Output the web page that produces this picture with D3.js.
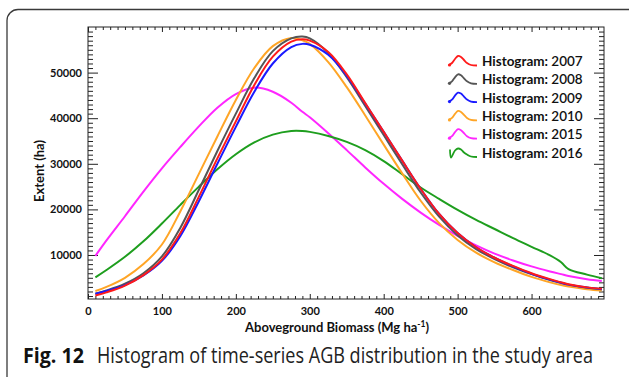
<!DOCTYPE html>
<html>
<head>
<meta charset="utf-8">
<script src="https://cdn.jsdelivr.net/npm/d3@7"></script>
<style>
  html, body { margin: 0; padding: 0; background: #fff; }
  svg { display: block; }
</style>
</head>
<body>
<svg id="chart"></svg>
<script>
// ====== données ====== //
const biomass = [10, 25, 50, 75, 100, 125, 150, 175, 200, 225, 250, 275, 290, 300, 325, 350, 375, 400, 425, 450, 475, 500, 525, 550, 575, 600, 625, 640, 650, 675, 695];

const h2007 = [1100, 1800, 3300, 5600, 9000, 14800, 22800, 31200, 39300, 47300, 53500, 56800, 57300, 57000, 54500, 49600, 43300, 37000, 30700, 24500, 19000, 14800, 11700, 9400, 7600, 6000, 4700, 4000, 3600, 2900, 2600];
const h2008 = [1500, 2200, 3700, 6000, 9700, 16000, 24300, 32800, 41000, 48800, 54700, 57500, 57900, 57500, 54300, 49000, 42700, 36300, 29900, 23700, 18400, 14300, 11300, 9100, 7300, 5800, 4500, 3900, 3500, 2800, 2500];
const h2009 = [1500, 2100, 3400, 5500, 8700, 14200, 21800, 30000, 38100, 45800, 52000, 55600, 56300, 56100, 53900, 49300, 43200, 37000, 30700, 24500, 19000, 14800, 11700, 9400, 7500, 5900, 4600, 3900, 3500, 2900, 2500];
const h2010 = [2100, 3000, 5000, 8000, 12300, 19600, 27800, 36000, 44000, 51000, 55800, 57600, 57100, 56300, 52300, 46800, 40600, 34200, 27900, 21900, 17000, 13300, 10500, 8400, 6700, 5200, 4000, 3400, 3100, 2500, 2200];
const h2015 = [9800, 13200, 18500, 23900, 29000, 33700, 38200, 42300, 45300, 46700, 45800, 43400, 41400, 40200, 36700, 33000, 29200, 25600, 22300, 19300, 16600, 14200, 12100, 10300, 8800, 7500, 6400, 5800, 5400, 4700, 4300];
const h2016 = [5100, 6700, 9600, 13000, 16900, 21000, 25000, 28800, 32100, 34700, 36400, 37200, 37200, 37000, 36100, 34800, 33000, 30600, 27700, 24800, 22300, 19900, 17700, 15700, 13700, 11800, 9900, 8400, 6900, 5700, 4900];

const seriesNames = ["Histogram: 2007", "Histogram: 2008", "Histogram: 2009", "Histogram: 2010", "Histogram: 2015", "Histogram: 2016"];
const seriesValues = [h2007, h2008, h2009, h2010, h2015, h2016];
const seriesColors = ["#ff1a1a", "#555555", "#1a1aff", "#ffa526", "#ff26ff", "#1e9e1e"];
// ordre de tracé (2007 dessus)
const drawOrder = [4, 5, 3, 1, 2, 0];

const xTicks = [0, 100, 200, 300, 400, 500, 600];
const yTicks = [10000, 20000, 30000, 40000, 50000];

// ====== dimensions ====== //
const W = 629, H = 377;
const frame = {left: 88, right: 604, top: 27, bottom: 299};

const svg = d3.select("#chart").attr("width", W).attr("height", H);

// cadre arrondi de la figure
svg.append("rect")
  .attr("x", 7).attr("y", 9.5)
  .attr("width", 634).attr("height", 380)
  .attr("rx", 11).attr("ry", 11)
  .attr("fill", "none")
  .attr("stroke", "#3a3a3a")
  .attr("stroke-width", 1.3);

const x = d3.scaleLinear().domain([0, 698]).range([frame.left, frame.right]);
const y = d3.scaleLinear().domain([350, 60000]).range([frame.bottom, frame.top]);

// ====== axes (graduations vers l'intérieur sur les 4 côtés) ====== //
const tickFont = "Lato, 'Open Sans', sans-serif";
const xMinor = d3.range(10, 698, 10).filter(v => v % 100 !== 0);
const yMinor = d3.range(1000, 60000, 1000).filter(v => v % 10000 !== 0);

function drawAxis(gen, tx, ty, values, size, labels) {
  const g = svg.append("g").attr("transform", `translate(${tx},${ty})`)
    .call(gen.tickValues(values).tickSize(size).tickPadding(labels ? 5 : 0)
      .tickFormat(labels ? d3.format("d") : ""));
  g.select(".domain").remove();
  g.selectAll(".tick line").attr("stroke", "#222").attr("stroke-width", 1);
  g.selectAll("text")
    .attr("font-family", tickFont)
    .attr("font-weight", "bold")
    .attr("font-size", 11)
    .attr("fill", "#111");
  return g;
}

drawAxis(d3.axisBottom(x), 0, frame.bottom, xTicks, -5, true).selectAll("text").attr("dy", "1em");
drawAxis(d3.axisBottom(x), 0, frame.bottom, xMinor, -3, false);
drawAxis(d3.axisTop(x), 0, frame.top, xTicks, -5, false);
drawAxis(d3.axisTop(x), 0, frame.top, xMinor, -3, false);
drawAxis(d3.axisLeft(y), frame.left, 0, yTicks, -10, true).selectAll("text").attr("x", -6);
drawAxis(d3.axisLeft(y), frame.left, 0, yMinor, -5, false);
drawAxis(d3.axisRight(y), frame.right, 0, yTicks, -10, false);
drawAxis(d3.axisRight(y), frame.right, 0, yMinor, -5, false);

svg.append("rect")
  .attr("x", frame.left).attr("y", frame.top)
  .attr("width", frame.right - frame.left).attr("height", frame.bottom - frame.top)
  .attr("fill", "none").attr("stroke", "#222").attr("stroke-width", 1);

// ====== courbes ====== //
const line = d3.line()
  .x((d, i) => x(biomass[i]))
  .y(d => y(d))
  .curve(d3.curveCatmullRom.alpha(0.5));

drawOrder.forEach(k => {
  svg.append("path")
    .datum(seriesValues[k])
    .attr("d", line)
    .attr("fill", "none")
    .attr("stroke", seriesColors[k])
    .attr("stroke-width", 2)
    .attr("stroke-linejoin", "round");
});

// ====== légende ====== //
const bump = [[0, 4], [3, 2], [6, -2], [9, -5], [12, -4], [15, -1], [18, 2], [22, 4], [28, 4.5]];
const bump16 = [[1, -3], [2, 5], [6, -2], [9, -4], [12, -3], [15, 0], [18, 2], [22, 4], [28, 4.5]];
const iconLine = d3.line().curve(d3.curveCatmullRom);

const legend = svg.append("g").attr("transform", "translate(449,61)");
seriesNames.forEach((name, i) => {
  const gy = i * 18.3;
  const pts = (i === 5 ? bump16 : bump).map(p => [p[0], p[1] + gy]);
  legend.append("path")
    .attr("d", iconLine(pts))
    .attr("fill", "none")
    .attr("stroke", seriesColors[i])
    .attr("stroke-width", 1.8);
  if (i !== 5) {
    legend.append("circle").attr("cx", 0.5).attr("cy", gy + 4).attr("r", 1.6).attr("fill", seriesColors[i]);
  }
  const parts = name.split(" ");
  const t = legend.append("text")
    .attr("x", 33).attr("y", gy + 5)
    .attr("font-family", tickFont)
    .attr("font-size", 13.5)
    .attr("fill", "#111");
  t.append("tspan").attr("font-weight", "bold").text(parts[0] + " ");
  t.append("tspan").attr("font-weight", "600").text(parts[1]);
});

// ====== titres d'axes ====== //
svg.append("text")
  .attr("x", 337).attr("y", 332)
  .attr("text-anchor", "middle")
  .attr("font-family", tickFont)
  .attr("font-weight", "bold")
  .attr("font-size", 13)
  .attr("fill", "#111")
  .html('Aboveground Biomass (Mg ha<tspan dy="-5" font-size="8.5">-1</tspan><tspan dy="5">)</tspan>');

svg.append("text")
  .attr("transform", "translate(44,171) rotate(-90)")
  .attr("text-anchor", "middle")
  .attr("font-family", tickFont)
  .attr("font-weight", "bold")
  .attr("font-size", 13)
  .attr("fill", "#111")
  .text("Extent (ha)");

// ====== légende de la figure ====== //
const capFont = "'Open Sans', 'Noto Sans', sans-serif";
svg.append("text")
  .attr("x", 23).attr("y", 363)
  .attr("font-family", capFont)
  .attr("font-weight", "bold")
  .attr("font-size", 21)
  .attr("textLength", 61)
  .attr("lengthAdjust", "spacingAndGlyphs")
  .attr("fill", "#111")
  .text("Fig. 12");

svg.append("text")
  .attr("x", 97).attr("y", 363)
  .attr("font-family", capFont)
  .attr("font-size", 21)
  .attr("textLength", 496)
  .attr("lengthAdjust", "spacingAndGlyphs")
  .attr("fill", "#222")
  .text("Histogram of time-series AGB distribution in the study area");
</script>
</body>
</html>
